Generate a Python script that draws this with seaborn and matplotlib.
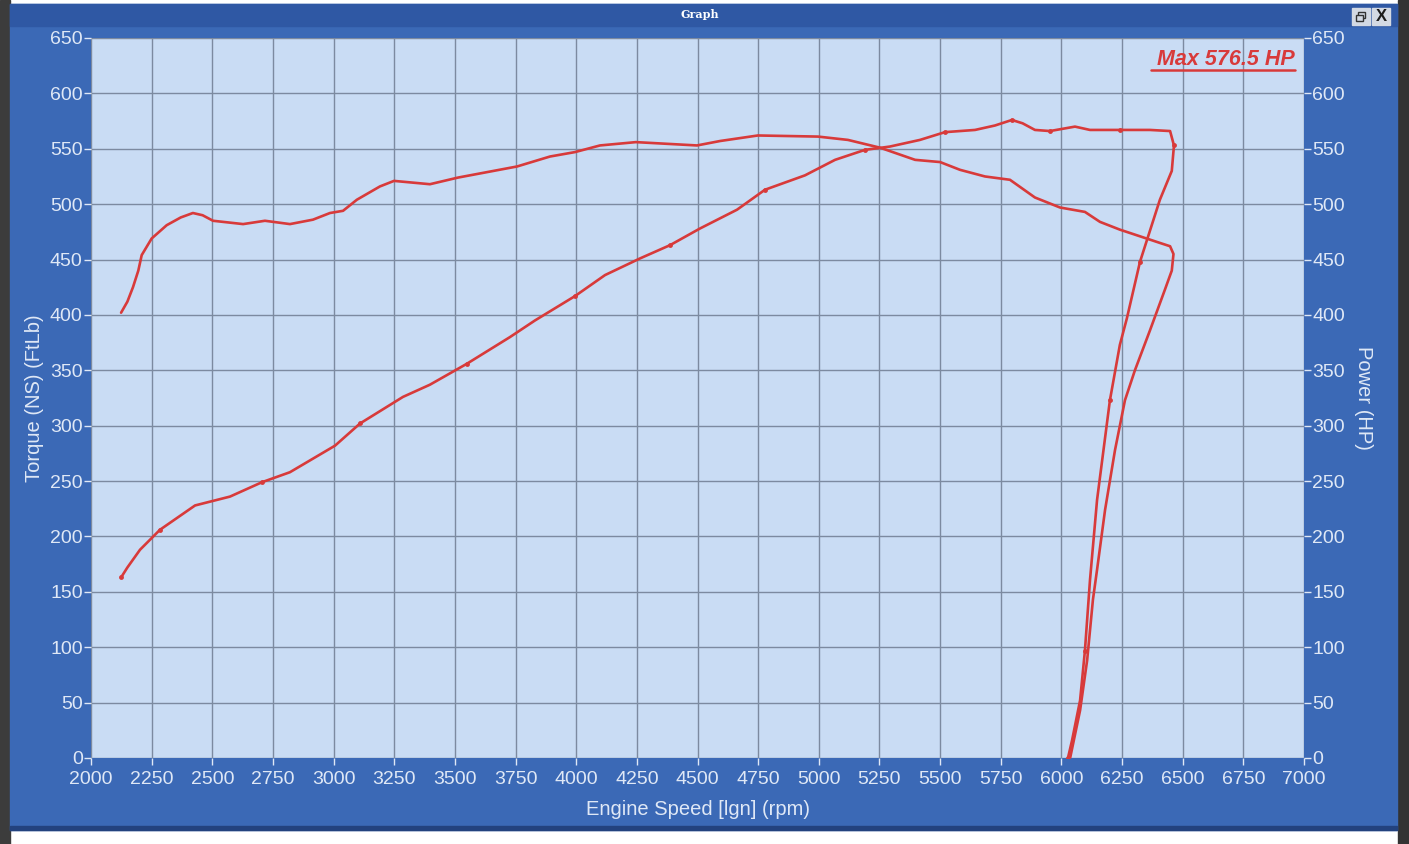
import numpy as np
import pandas as pd
import matplotlib.pyplot as plt
import seaborn as sns
from matplotlib.patches import Rectangle

# Torque curve (FtLb), incl. the decel tail
torque_rpm = [2124, 2150, 2173, 2195, 2209, 2250, 2312, 2370, 2420, 2460, 2503,
              2627, 2717, 2820, 2915, 2985, 3039, 3096, 3191, 3249, 3397, 3513,
              3756, 3892, 3995, 4098, 4246, 4498, 4593, 4749, 4997, 5120, 5252,
              5397, 5500, 5582, 5685, 5788, 5891, 5994, 6097, 6159, 6241, 6406,
              6448, 6462, 6455, 6427, 6365, 6303, 6262, 6221, 6180, 6147, 6130,
              6106, 6077, 6036]
torque_val = [402, 412, 425, 440, 454, 469, 481, 488, 492, 490, 485,
              482, 485, 482, 486, 492, 494, 504, 516, 521, 518, 524,
              534, 543, 547, 553, 556, 553, 557, 562, 561, 558, 551,
              540, 538, 531, 525, 522, 506, 497, 493, 484, 477, 465,
              462, 455, 440, 423, 386, 350, 323, 278, 224, 170, 143,
              88, 43, 0]

# Power curve (HP)
power_rpm = [2124, 2150, 2202, 2284, 2429, 2573, 2705, 2820, 3006, 3109, 3286,
             3397, 3550, 3727, 3830, 3995, 4119, 4263, 4387, 4510, 4663, 4778,
             4943, 5067, 5190, 5293, 5417, 5520, 5644, 5726, 5796, 5840, 5891,
             5953, 6056, 6118, 6241, 6365, 6448, 6464, 6455, 6406, 6324, 6270,
             6241, 6200, 6147, 6118, 6097, 6077, 6044, 6027]
power_val = [163, 172, 188, 206, 228, 236, 249, 258, 282, 302, 326,
             337, 356, 380, 395, 417, 436, 451, 463, 478, 495, 513,
             526, 540, 549, 552, 558, 565, 567, 571, 576, 573, 567,
             566, 570, 567, 567, 567, 566, 553, 530, 504, 448, 397,
             373, 323, 233, 161, 97, 52, 16, 0]

x_ticks = list(range(2000, 7001, 250))
y_ticks = list(range(0, 651, 50))
max_label = "Max 576.5 HP"

frame_blue = "#3b69b6"
plot_bg = "#c9dcf4"
grid_col = "#7c8aa0"
txt_col = "#dfe8f6"
red = "#d83a3a"

sns.set_style("ticks")
plt.rcParams['font.family'] = ['Liberation Sans', 'DejaVu Sans']

fig = plt.figure(figsize=(14.09, 8.44), dpi=100)
fig.patch.set_facecolor("white")
W, H = 1409, 844


def frect(x, y, w, h, **kw):
    # rectangle in pixel coords from the top-left corner
    fig.patches.append(Rectangle((x / W, (H - y - h) / H), w / W, h / H,
                                 transform=fig.transFigure, **kw))


# window frame, title bar and side strips
frect(0, 0, 10, H, color="#3c3c3c", zorder=-5)
frect(1398, 0, 11, H, color="#333333", zorder=-5)
frect(10, 4, 1387, 826, color=frame_blue, zorder=-4)
frect(10, 4, 1387, 22, color="#2f58a4", zorder=-3)
frect(10, 826, 1387, 4, color="#23427e", zorder=-3)
fig.text(700 / W, 1 - 15 / H, "Graph", color="white", fontsize=8,
         fontweight="bold", ha="center", va="center", family="DejaVu Serif")
# window buttons (restore / close)
frect(1352, 8, 18, 17, color="#d3d9e3", zorder=-2)
frect(1372, 8, 18, 17, color="#d3d9e3", zorder=-2)
frect(1358, 12, 7, 6, fill=False, edgecolor="#333333", linewidth=1.0, zorder=-1)
frect(1356, 15, 7, 6, facecolor="#d3d9e3", edgecolor="#333333", linewidth=1.0, zorder=-1)
fig.text(1381 / W, 1 - 16.5 / H, "X", color="#1c1c1c", fontsize=12,
         ha="center", va="center", fontweight="bold")

ax = fig.add_axes([91 / W, 86 / H, 1213 / W, 720 / H])
ax.set_facecolor(plot_bg)

df_t = pd.DataFrame({"rpm": torque_rpm, "val": torque_val})
df_p = pd.DataFrame({"rpm": power_rpm, "val": power_val})

sns.lineplot(data=df_t, x="rpm", y="val", sort=False, estimator=None,
             color=red, linewidth=1.9, ax=ax, zorder=3)
ax2 = ax.twinx()
sns.lineplot(data=df_p, x="rpm", y="val", sort=False, estimator=None,
             color=red, linewidth=1.9, ax=ax2, zorder=3,
             marker="o", markersize=3.5, markevery=3, markeredgewidth=0)

for a in (ax, ax2):
    a.set_xlim(2000, 7000)
    a.set_ylim(0, 650)
    a.set_yticks(y_ticks)
    for s in a.spines.values():
        s.set_visible(False)
    a.tick_params(colors=txt_col, labelcolor=txt_col, labelsize=14,
                  length=5, width=1, pad=1)

ax.set_xticks(x_ticks)
ax.tick_params(axis="x", pad=4)
ax.grid(True, color=grid_col, linewidth=1.0)
ax.set_axisbelow(True)
ax.set_xlabel("Engine Speed [lgn] (rpm)", color=txt_col, fontsize=14.5, labelpad=9)
ax.set_ylabel("Torque (NS) (FtLb)", color=txt_col, fontsize=14.5, labelpad=4)
ax2.set_ylabel("Power (HP)", color=txt_col, fontsize=14.5, rotation=-90, labelpad=20)

ax.text(0.9926, 0.962, max_label, transform=ax.transAxes, ha="right", va="baseline",
        color=red, fontsize=15.5, fontstyle="italic", fontweight="bold", zorder=5)
ax.plot([0.874, 0.9926], [0.955, 0.955], transform=ax.transAxes, color=red,
        linewidth=1.8, zorder=5)

fig.savefig("out.png", dpi=100, facecolor=fig.get_facecolor())
